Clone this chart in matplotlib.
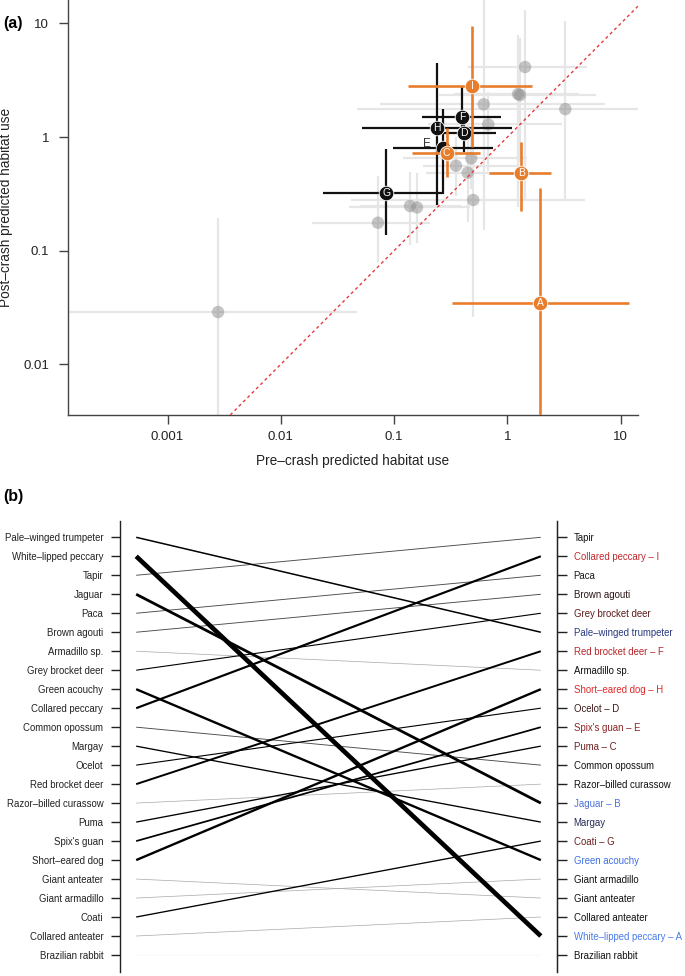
import matplotlib
matplotlib.use('Agg')
import matplotlib.pyplot as plt
import numpy as np

plt.rcParams['font.family'] = ['Liberation Sans', 'DejaVu Sans']

# ---------------- Panel (a) data ----------------
gray_x = [1.43, 1.24, 1.29, 3.24, 0.617, 0.677, 0.479, 0.351, 0.445, 0.499, 0.138, 0.159, 0.0719, 0.00279]
gray_y = [4.13, 2.39, 2.34, 1.76, 1.94, 1.29, 0.649, 0.559, 0.485, 0.279, 0.247, 0.240, 0.176, 0.0288]
gray_xlo = [0.448, 0.337, 0.25, 0.047, 0.075, 0.2, 0.12, 0.18, 0.19, 0.042, 0.05, 0.04, 0.019, 1e-5]
gray_xhi = [5.03, 4.28, 6.0, 20.0, 7.25, 3.0, 1.5, 1.29, 1.7, 4.8, 0.39, 0.47, 0.207, 0.0467]
gray_ylo = [0.279, 0.24, 0.6, 0.279, 0.151, 0.5, 0.35, 0.3, 0.18, 0.0259, 0.112, 0.117, 0.080, 1e-4]
gray_yhi = [13.1, 7.9, 7.5, 10.6, 30.0, 2.5, 1.1, 1.0, 1.3, 1.6, 0.495, 0.479, 0.45, 0.193]

lab_names = ['A', 'B', 'C', 'D', 'E', 'F', 'G', 'H', 'I']
lab_x = [1.95, 1.32, 0.29, 0.41, 0.268, 0.40, 0.085, 0.237, 0.486]
lab_y = [0.0344, 0.48, 0.73, 1.08, 0.794, 1.5, 0.32, 1.21, 2.81]
lab_xlo = [0.326, 0.687, 0.1425, 0.27, 0.097, 0.177, 0.0237, 0.0516, 0.1315]
lab_xhi = [11.9, 2.40, 0.571, 0.79, 0.74, 0.881, 0.271, 1.10, 1.63]
lab_ylo = [1e-4, 0.224, 0.441, 0.742, 0.315, 1.12, 0.137, 0.252, 0.822]
lab_yhi = [0.353, 0.897, 1.19, 1.47, 1.75, 2.77, 0.784, 4.46, 9.55]
lab_group = ['orange', 'orange', 'orange', 'black', 'black', 'black', 'black', 'black', 'orange']

xticks_a = [0.001, 0.01, 0.1, 1, 10]
xticklabels_a = ['0.001', '0.01', '0.1', '1', '10']
yticks_a = [0.01, 0.1, 1, 10]
yticklabels_a = ['0.01', '0.1', '1', '10']

# ---------------- Panel (b) data ----------------
pre_order = ['Pale–winged trumpeter', 'White–lipped peccary', 'Tapir', 'Jaguar', 'Paca',
             'Brown agouti', 'Armadillo sp.', 'Grey brocket deer', 'Green acouchy',
             'Collared peccary', 'Common opossum', 'Margay', 'Ocelot', 'Red brocket deer',
             'Razor–billed curassow', 'Puma', "Spix's guan", 'Short–eared dog',
             'Giant anteater', 'Giant armadillo', 'Coati', 'Collared anteater', 'Brazilian rabbit']
post_order = ['Tapir', 'Collared peccary', 'Paca', 'Brown agouti', 'Grey brocket deer',
              'Pale–winged trumpeter', 'Red brocket deer', 'Armadillo sp.', 'Short–eared dog',
              'Ocelot', "Spix's guan", 'Puma', 'Common opossum', 'Razor–billed curassow',
              'Jaguar', 'Margay', 'Coati', 'Green acouchy', 'Giant armadillo',
              'Giant anteater', 'Collared anteater', 'White–lipped peccary', 'Brazilian rabbit']
post_tags = ['', 'I', '', '', '', '', 'F', '', 'H', 'D', 'E', 'C', '', '', 'B', '', 'G', '',
             '', '', '', 'A', '']
post_colors = ['#111111', '#c0282d', '#1a1a1a', '#2a1515', '#5c1a1a', '#2b3a80', '#b8262b',
               '#111111', '#e02a2a', '#3d1a1a', '#8c2323', '#6e1f1f', '#111111', '#111111',
               '#4a72d8', '#252b55', '#6e1f1f', '#3f6fe0', '#111111', '#111111', '#111111',
               '#4a7ae8', '#111111']

# ---------------- Figure ----------------
fig = plt.figure(figsize=(6.85, 9.76), dpi=100)

W, H = 685.0, 976.0
axL, axR, axT, axB = 67.5, 638.0, 0.0, 415.0
ax = fig.add_axes([axL / W, 1 - axB / H, (axR - axL) / W, (axB - axT) / H])
ax.set_xscale('log')
ax.set_yscale('log')
ax.set_xlim(10 ** -3.883, 10 ** 1.152)
ax.set_ylim(10 ** -2.447, 10 ** 1.206)

gx = np.array(gray_x); gy = np.array(gray_y)
ax.errorbar(gx, gy,
            xerr=[gx - np.array(gray_xlo), np.array(gray_xhi) - gx],
            yerr=[gy - np.array(gray_ylo), np.array(gray_yhi) - gy],
            fmt='none', ecolor='#e6e6e6', elinewidth=1.6, capsize=0, zorder=1)
ax.scatter(gx, gy, s=80, color='#8c8c8c', alpha=0.5, edgecolors='none', zorder=2)

ax.axline((0.01, 0.01), (1, 1), color='#e8383d', lw=1.0, dashes=(2.2, 2.2), zorder=3)

col_map = {'orange': '#e87d2c', 'black': '#111111'}
for grp, zb in (('black', 4), ('orange', 6)):
    for i, nm in enumerate(lab_names):
        if lab_group[i] != grp:
            continue
        x, y = lab_x[i], lab_y[i]
        c = col_map[grp]
        ax.errorbar([x], [y], xerr=[[x - lab_xlo[i]], [lab_xhi[i] - x]],
                    yerr=[[y - lab_ylo[i]], [lab_yhi[i] - y]],
                    fmt='none', ecolor=c, elinewidth=1.6 if grp == 'black' else 1.9,
                    capsize=0, zorder=zb)
        ax.plot([x], [y], 'o', ms=10.5, color=c, mec='white', mew=0.6, zorder=zb + 1)
        if nm == 'E':
            ax.annotate(nm, (x, y), xytext=(-11, 3), textcoords='offset points',
                        ha='center', va='center', fontsize=8.5, color='#333333', zorder=zb + 2)
        else:
            ax.text(x, y, nm, ha='center', va='center', fontsize=7.5, color='white',
                    zorder=zb + 2)

ax.set_xticks(xticks_a)
ax.set_xticklabels(xticklabels_a)
ax.set_yticks(yticks_a)
ax.set_yticklabels(yticklabels_a)
ax.minorticks_off()
for s in ('top', 'right'):
    ax.spines[s].set_visible(False)
for s in ('left', 'bottom'):
    ax.spines[s].set_color('#444444')
    ax.spines[s].set_linewidth(1.0)
ax.tick_params(axis='both', colors='#444444', labelcolor='#222222', labelsize=9.5,
               length=6.8, width=1.0)
ax.tick_params(axis='y', pad=6.5)
ax.tick_params(axis='x', pad=5)
ax.set_xlabel('Pre–crash predicted habitat use', fontsize=9.8, color='#222222')
ax.set_ylabel('Post–crash predicted habitat use', fontsize=9.8, color='#222222')
ax.yaxis.set_label_coords(-0.0955, 0.5)
ax.xaxis.set_label_coords(0.5, -0.093)

fig.text(3 / W, 1 - 23.7 / H, '(a)', fontsize=11.5, fontweight='bold', va='center', ha='left')

# ---------------- Panel (b) ----------------
bL, bR, bT, bB = 120.0, 557.0, 520.6, 971.7
ax2 = fig.add_axes([bL / W, 1 - bB / H, (bR - bL) / W, (bB - bT) / H])
n = len(pre_order)
ax2.set_xlim(0.96, 2.04)
ax2.set_ylim(n + 0.88, 0.12)

for i, nm in enumerate(pre_order):
    j = post_order.index(nm)
    d = abs(j - i)
    lw = 0.35 + 0.15 * d
    if d == 0:
        col = '#f2f2f2'
    elif d == 1:
        col = '#a8a8a8'
    elif d == 2:
        col = '#4a4a4a'
    else:
        col = '#000000'
    ax2.plot([1, 2], [i + 1, j + 1], color=col, lw=lw, solid_capstyle='butt', zorder=2 + d)

ax2.set_xticks([])
ax2.set_yticks(np.arange(1, n + 1))
ax2.set_yticklabels(pre_order)
for s in ('top', 'bottom'):
    ax2.spines[s].set_visible(False)
for s in ('left', 'right'):
    ax2.spines[s].set_color('#222222')
    ax2.spines[s].set_linewidth(1.0)
ax2.tick_params(axis='y', length=6.5, width=1.0, colors='#222222', labelsize=6.9, pad=5.5)

ax3 = ax2.twinx()
ax3.set_ylim(n + 0.88, 0.12)
ax3.set_yticks(np.arange(1, n + 1))
post_labels = [nm + (' – ' + t if t else '') for nm, t in zip(post_order, post_tags)]
ax3.set_yticklabels(post_labels)
for lbl, c in zip(ax3.get_yticklabels(), post_colors):
    lbl.set_color(c)
for s in ('top', 'bottom', 'left'):
    ax3.spines[s].set_visible(False)
ax3.spines['right'].set_color('#222222')
ax3.tick_params(axis='y', length=7, width=1.0, color='#222222', labelsize=6.9, pad=5.0)

fig.text(3 / W, 1 - 497 / H, '(b)', fontsize=11.5, fontweight='bold', va='center', ha='left')

fig.savefig('out.png', dpi=100)
